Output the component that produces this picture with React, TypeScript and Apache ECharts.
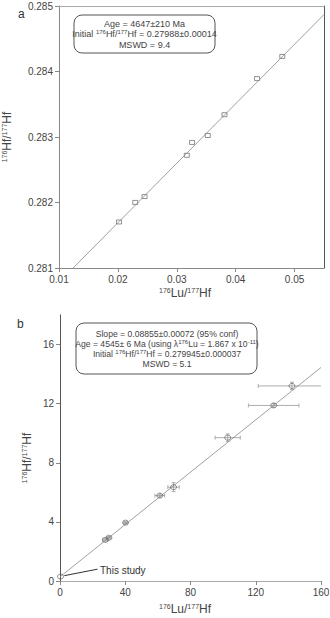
import React, { useEffect, useRef } from "react";
import * as echarts from "echarts";

// ---------- Panel a data ----------
const luHfA = [0.0202, 0.02295, 0.02453, 0.0317, 0.0326, 0.03526, 0.0381, 0.04363, 0.04792];
const hfHfA = [0.281703, 0.282001, 0.282091, 0.282721, 0.282917, 0.283023, 0.28334, 0.283892, 0.28423];
const isochronA = [[0.0124, 0.281], [0.055, 0.28487]];

// ---------- Panel b data ----------
const luHfB = [0.3, 27.8, 30.0, 40.2, 61.2, 69.6, 102.8, 131.0, 142.2];
const hfHfB = [0.3, 2.78, 2.93, 3.95, 5.78, 6.35, 9.7, 11.88, 13.2];
const luErrB = [0, 1.5, 1.2, 1.0, 3.0, 3.5, 7.7, 15.5, 20.7];
const hfErrB = [0, 0.08, 0.08, 0.06, 0.1, 0.3, 0.25, 0.12, 0.25];
const isochronB = [[0, 0.28], [160, 14.45]];
const arrowFrom = [23, 0.8];
const arrowTo = [2.6, 0.36];

const FONT = "'Liberation Sans', Arial, Helvetica, sans-serif";
const LABEL_COLOR = "#444";

const supRich = {
  s: { fontSize: 6, verticalAlign: "top", lineHeight: 7, fontFamily: FONT, fill: LABEL_COLOR, color: LABEL_COLOR },
};

export default function App() {
  const ref = useRef<HTMLDivElement>(null);
  useEffect(() => {
    if (!ref.current) return;
    const chart = echarts.init(ref.current, undefined, { renderer: "svg" });

    const axisNameStyle = (pad: number[]) => ({
      fontSize: 12,
      color: "#444",
      fontFamily: FONT,
      padding: pad,
      rich: {
        s: { fontSize: 7, verticalAlign: "top", lineHeight: 8, color: "#444", fontFamily: FONT },
      },
    });
    const tickLabel = { fontSize: 10, color: LABEL_COLOR, fontFamily: FONT, showMaxLabel: false };
    const axisLine = { show: true, lineStyle: { color: "#888", width: 1 } };
    const axisTick = { show: true, inside: false, length: 4, lineStyle: { color: "#888" } };

    const dataA = luHfA.map((x, i) => [x, hfHfA[i]]);
    const dataB = luHfB.map((x, i) => [x, hfHfB[i], luErrB[i], hfErrB[i]]);

    const errorRender = (params: any, api: any) => {
      const x = api.value(0), y = api.value(1), ex = api.value(2), ey = api.value(3);
      const cs = params.coordSys;
      const minX = cs.x, maxX = cs.x + cs.width;
      const clampX = (v: number) => Math.max(minX, Math.min(maxX, v));
      const style = { stroke: "#999", lineWidth: 0.8, fill: "none" };
      const children: any[] = [];
      const cap = 2;
      if (ex > 0) {
        const l = api.coord([x - ex, y]);
        const r = api.coord([x + ex, y]);
        const lx = clampX(l[0]), rx = clampX(r[0]);
        children.push({ type: "line", shape: { x1: lx, y1: l[1], x2: rx, y2: r[1] }, style });
        if (l[0] >= minX) children.push({ type: "line", shape: { x1: lx, y1: l[1] - cap, x2: lx, y2: l[1] + cap }, style });
        if (r[0] <= maxX) children.push({ type: "line", shape: { x1: rx, y1: r[1] - cap, x2: rx, y2: r[1] + cap }, style });
      }
      if (ey > 0) {
        const b = api.coord([x, y - ey]);
        const t = api.coord([x, y + ey]);
        children.push({ type: "line", shape: { x1: b[0], y1: b[1], x2: t[0], y2: t[1] }, style });
        children.push({ type: "line", shape: { x1: b[0] - cap, y1: b[1], x2: b[0] + cap, y2: b[1] }, style });
        children.push({ type: "line", shape: { x1: t[0] - cap, y1: t[1], x2: t[0] + cap, y2: t[1] }, style });
      }
      return { type: "group", children };
    };

    const option: any = {
      animation: false,
      backgroundColor: "#fff",
      grid: [
        { left: 59, top: 6, width: 265, height: 262, containLabel: false, outerBoundsMode: "none" },
        { left: 60, top: 315, width: 261, height: 266, containLabel: false, outerBoundsMode: "none" },
      ],
      xAxis: [
        {
          gridIndex: 0, type: "value", min: 0.01, max: 0.055, interval: 0.01,
          axisLine, axisTick, axisLabel: { ...tickLabel, margin: 6 }, splitLine: { show: false },
          name: "{s|176}Lu/{s|177}Hf", nameLocation: "middle", nameGap: 19, nameMoveOverlap: false,
          nameTextStyle: axisNameStyle([0, 13, 0, 0]),
        },
        {
          gridIndex: 0, type: "value", position: "top", min: 0.01, max: 0.055,
          axisLine: { show: true, lineStyle: { color: "#aaa" } }, axisTick: { show: false },
          axisLabel: { show: false }, splitLine: { show: false },
        },
        {
          gridIndex: 1, type: "value", min: 0, max: 160, interval: 40,
          axisLine, axisTick, axisLabel: { ...tickLabel, showMaxLabel: true, margin: 6 }, splitLine: { show: false },
          name: "{s|176}Lu/{s|177}Hf", nameLocation: "middle", nameGap: 22, nameMoveOverlap: false,
          nameTextStyle: axisNameStyle([0, 11, 0, 0]),
        },
        {
          gridIndex: 1, type: "value", position: "top", min: 0, max: 160,
          axisLine: { show: true, lineStyle: { color: "#aaa" } }, axisTick: { show: false },
          axisLabel: { show: false }, splitLine: { show: false },
        },
      ],
      yAxis: [
        {
          gridIndex: 0, type: "value", min: 0.281, max: 0.285, interval: 0.001,
          axisLine, axisTick, axisLabel: { ...tickLabel, showMaxLabel: true, margin: 6 }, splitLine: { show: false },
        },
        {
          gridIndex: 0, type: "value", position: "right", min: 0.281, max: 0.285,
          axisLine: { show: true, lineStyle: { color: "#555" } }, axisTick: { show: false },
          axisLabel: { show: false }, splitLine: { show: false },
        },
        {
          gridIndex: 1, type: "value", min: 0, max: 18, interval: 4,
          axisLine, axisTick, axisLabel: { ...tickLabel, margin: 6 }, splitLine: { show: false },
          name: "{s|176}Hf/{s|177}Hf", nameLocation: "middle", nameGap: 27, nameMoveOverlap: false,
          nameTextStyle: axisNameStyle([0, 20, 0, 0]),
        },
        {
          gridIndex: 1, type: "value", position: "right", min: 0, max: 18,
          axisLine: { show: true, lineStyle: { color: "#555" } }, axisTick: { show: false },
          axisLabel: { show: false }, splitLine: { show: false },
        },
      ],
      series: [
        {
          type: "line", xAxisIndex: 0, yAxisIndex: 0, data: isochronA, showSymbol: false,
          lineStyle: { color: "#888", width: 0.8 }, silent: true,
        },
        {
          type: "scatter", xAxisIndex: 0, yAxisIndex: 0, data: dataA, symbol: "rect", symbolSize: [5, 4],
          itemStyle: { color: "rgba(255,255,255,0)", borderColor: "#555", borderWidth: 0.8 },
        },
        {
          type: "line", xAxisIndex: 2, yAxisIndex: 2, data: isochronB, showSymbol: false,
          lineStyle: { color: "#888", width: 0.8 }, silent: true,
        },
        {
          type: "custom", xAxisIndex: 2, yAxisIndex: 2, data: dataB, renderItem: errorRender,
          encode: { x: 0, y: 1 }, silent: true, z: 3,
        },
        {
          type: "scatter", xAxisIndex: 2, yAxisIndex: 2, data: dataB.map((d) => [d[0], d[1]]),
          symbol: "circle", symbolSize: [6, 5], z: 4,
          itemStyle: { color: "rgba(255,255,255,0)", borderColor: "#555", borderWidth: 0.8 },
          markLine: {
            silent: true, animation: false,
            symbol: ["none", "arrow"], symbolSize: [0, 8],
            label: { show: false },
            lineStyle: { color: "#333", width: 1, type: "solid" },
            data: [[{ coord: arrowFrom }, { coord: arrowTo }]],
          },
        },
      ],
      graphic: [
        { type: "text", left: 18, top: 8, style: { text: "a", fontSize: 12, fill: "#333", fontFamily: FONT } },
        { type: "text", left: 17, top: 318, style: { text: "b", fontSize: 12, fill: "#333", fontFamily: FONT } },
        {
          type: "text", x: 7, y: 137, rotation: Math.PI / 2,
          style: {
            text: "{s|176}Hf/{s|177}Hf", align: "center", verticalAlign: "middle",
            fontSize: 12, fill: "#444", fontFamily: FONT,
            rich: { s: { fontSize: 7, verticalAlign: "top", lineHeight: 8, fill: "#444", fontFamily: FONT } },
          },
        },
        {
          type: "rect", shape: { x: 74, y: 15, width: 141, height: 38, r: 8 },
          style: { fill: "#fff", stroke: "#555", lineWidth: 1 }, z: 10,
        },
        {
          type: "text", x: 144.5, y: 34, z: 11,
          style: {
            text: "Age = 4647±210 Ma\nInitial {s|176}Hf/{s|177}Hf = 0.27988±0.00014\nMSWD = 9.4",
            align: "center", verticalAlign: "middle", fontSize: 9, lineHeight: 10.5,
            fill: LABEL_COLOR, fontFamily: FONT, rich: supRich,
          },
        },
        {
          type: "rect", shape: { x: 76, y: 323, width: 181, height: 51, r: 8 },
          style: { fill: "#fff", stroke: "#555", lineWidth: 1 }, z: 10,
        },
        {
          type: "text", x: 167, y: 348.5, z: 11,
          style: {
            text:
              "Slope = 0.08855±0.00072 (95% conf)\nAge = 4545± 6 Ma (using λ{s|176}Lu = 1.867 x 10{s|-11})\nInitial {s|176}Hf/{s|177}Hf = 0.279945±0.000037\nMSWD = 5.1",
            align: "center", verticalAlign: "middle", fontSize: 8.6, lineHeight: 10,
            fill: LABEL_COLOR, fontFamily: FONT, rich: supRich,
          },
        },
        {
          type: "text", x: 100, y: 570, z: 11,
          style: { text: "This study", fontSize: 10, fill: "#333", fontFamily: FONT, verticalAlign: "middle" },
        },
      ],
    };
    chart.setOption(option);
    return () => chart.dispose();
  }, []);
  return (
    <div
      ref={ref}
      style={{ position: "absolute", left: 0, top: 0, width: 330, height: 618, background: "#fff" }}
    />
  );
}
